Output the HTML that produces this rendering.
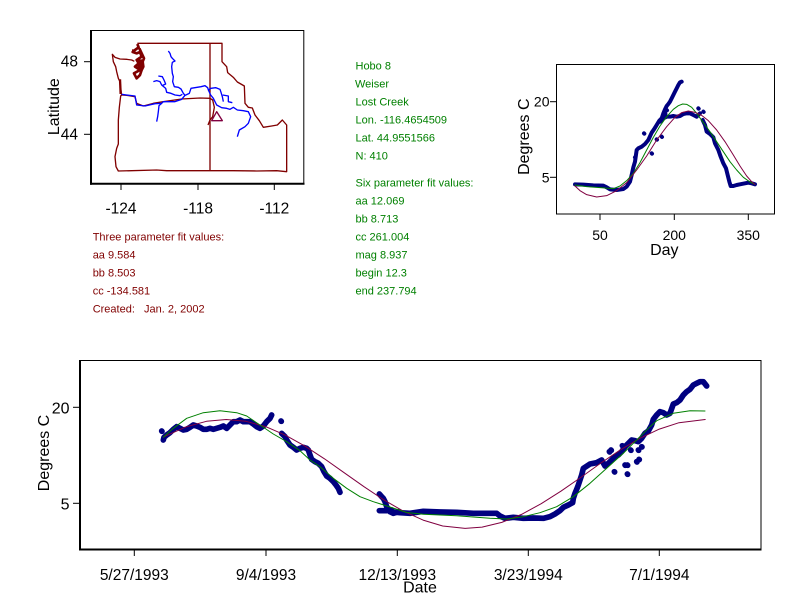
<!DOCTYPE html>
<html><head><meta charset="utf-8"><style>
html,body{margin:0;padding:0;background:#fff;}
svg{display:block;font-family:"Liberation Sans",Arial,sans-serif;}
</style></head><body>
<svg width="792" height="611" viewBox="0 0 792 611" xmlns="http://www.w3.org/2000/svg">
<rect width="792" height="611" fill="#fff"/>

<!-- ===== MAP ===== -->
<g fill="none" stroke="#000">
<line x1="90" y1="30.5" x2="304" y2="30.5" stroke-width="1"/>
<line x1="303.8" y1="30" x2="303.8" y2="184" stroke-width="1"/>
<line x1="91" y1="30" x2="91" y2="184.7" stroke-width="2"/>
<line x1="90" y1="183.7" x2="304.5" y2="183.7" stroke-width="2"/>
<line x1="84" y1="61.7" x2="90" y2="61.7"/>
<line x1="84" y1="134.3" x2="90" y2="134.3"/>
<line x1="121" y1="184" x2="121" y2="190"/>
<line x1="198" y1="184" x2="198" y2="190"/>
<line x1="274.3" y1="184" x2="274.3" y2="190"/>
</g>
<g font-size="15.5" fill="#000">
<text x="78" y="66.7" text-anchor="end">48</text>
<text x="78" y="139.5" text-anchor="end">44</text>
<text x="121" y="213.3" text-anchor="middle">-124</text>
<text x="198" y="213.3" text-anchor="middle">-118</text>
<text x="274.3" y="213.3" text-anchor="middle">-112</text>
<text transform="translate(59,106.7) rotate(-90)" text-anchor="middle" font-size="16">Latitude</text>
</g>
<g transform="translate(0,20) scale(0.333333)" fill="none" stroke-linejoin="round">
<g stroke="#800000" stroke-width="4">
<path d="M412,70 L666,70 L666,125 L680,140 L683,158 L700,172 L712,186 L733,198 L735,250 L745,262 L757,264 L765,285 L778,302 L790,322 L815,318 L832,315 L847,300 L860,315 L860,455 L830,452 L770,453 L700,452 L600,452 L500,452 L470,450 L355,453 L348,440 L345,410 L350,385 L355,372 L355,300 L358,262 L362,228 L365,225 L362,205 L360,185 L355,175 L350,155 L347,140 L340,125 L337,103 L345,112 L360,117 L380,118 L395,120 L403,124"/>
<path d="M630,70 L630,450"/>
<path d="M365,225 L380,226 L405,230 L410,250 L430,258 L460,250 L490,245 L545,237 L600,234 L630,235 L638,240 L643,262 L638,290 L630,300 L624,315"/>
<path d="M360,178 L362,222" stroke-width="7"/>
<path d="M412,72 L416,82 L405,90 L398,96 L410,100 L420,96 L425,110 L410,120 L416,130 L405,140 L420,150 L402,160 L410,175 L420,165 L425,150 L430,140 L428,125 L432,115 L425,100 L418,85" stroke-width="8"/>
<rect x="396" y="88" width="10" height="10" fill="#800000" stroke="none"/>
<rect x="412" y="118" width="14" height="30" fill="#800000" stroke="none"/>
</g>
<g stroke="#0000ff" stroke-width="4">
<path d="M365,223 L380,225 L405,228 L410,255 L435,258 L465,251 L485,250 L490,245 L525,245 L545,238 L555,226 L568,220 L573,205 L603,200 L615,197 L623,203 L625,210 L633,205 L647,203 L660,208 L663,217 L667,230 L670,245"/>
<path d="M505,93 L510,100 L513,110 L517,115 L525,123 L517,127 L515,140 L517,160 L520,170 L518,185 L523,200 L535,202 L543,207 L550,220 L555,226"/>
<path d="M460,185 L470,182 L480,185 L485,195 L497,205 L500,217 L513,220 L525,225 L540,227 L547,223"/>
<path d="M475,168 L487,170 L492,180 L497,192 L488,196"/>
<path d="M485,250 L477,257 L475,275 L473,290 L470,305"/>
<path d="M625,210 L632,225 L640,235 L645,245 L650,255 L665,263 L680,265 L690,268 L700,262 L712,270 L730,272 L745,275 L752,290 L745,310 L735,320 L718,330 L712,350"/>
<path d="M668,225 L685,228 L685,245 L697,248"/>
</g>
<path d="M650,275 L635,302 L667,302 Z" stroke="#800040" stroke-width="4"/>
</g>

<!-- ===== TEXT BLOCKS ===== -->
<g font-size="11" fill="#008000">
<text x="355.5" y="69.3">Hobo 8</text>
<text x="355" y="87.3">Weiser</text>
<text x="355.5" y="105.3">Lost Creek</text>
<text x="355.5" y="123.3">Lon. -116.4654509</text>
<text x="355.5" y="141.3">Lat. 44.9551566</text>
<text x="355.5" y="159.5">N: 410</text>
<text x="355.5" y="186.5">Six parameter fit values:</text>
<text x="355.5" y="204.5">aa 12.069</text>
<text x="355.5" y="222.5">bb 8.713</text>
<text x="355.5" y="240.5">cc 261.004</text>
<text x="355.5" y="258.5">mag 8.937</text>
<text x="355.5" y="276.5">begin 12.3</text>
<text x="355.5" y="294.5">end 237.794</text>
</g>
<g font-size="11" fill="#800000">
<text x="92.7" y="240.5">Three parameter fit values:</text>
<text x="92.7" y="258.5">aa 9.584</text>
<text x="92.7" y="276.5">bb 8.503</text>
<text x="92.7" y="294.5">cc -134.581</text>
<text x="92.7" y="312.5" xml:space="preserve">Created:   Jan. 2, 2002</text>
</g>

<!-- ===== RIGHT CHART ===== -->
<g fill="none" stroke="#000" stroke-width="1">
<rect x="556.5" y="64.5" width="218" height="149.5"/>
<line x1="550" y1="101.7" x2="556" y2="101.7"/>
<line x1="550" y1="177.3" x2="556" y2="177.3"/>
<line x1="600" y1="214" x2="600" y2="220"/>
<line x1="674.3" y1="214" x2="674.3" y2="220"/>
<line x1="748.3" y1="214" x2="748.3" y2="220"/>
</g>
<g fill="#000">
<text x="549.5" y="106.7" text-anchor="end" font-size="14">20</text>
<text x="549.5" y="182.7" text-anchor="end" font-size="14">5</text>
<text x="600" y="240" text-anchor="middle" font-size="14">50</text>
<text x="674.3" y="240" text-anchor="middle" font-size="14">200</text>
<text x="748.3" y="240" text-anchor="middle" font-size="14">350</text>
<text x="664.3" y="255" text-anchor="middle" font-size="16">Day</text>
<text transform="translate(529,136.7) rotate(-90)" text-anchor="middle" font-size="16">Degrees C</text>
</g>
<g transform="translate(500,50) scale(0.333333)" fill="none" stroke-linecap="round" stroke-linejoin="round">
<g stroke="#000080" stroke-width="12">
<path d="M225,403 L250,404 L280,406 L310,407 L320,412 L330,418 L350,420 L370,417 L380,410 L390,395 L395,375 L400,352 L405,335 L410,300 L415,295 L425,290 L435,282 L445,270 L455,248 L462,238 L470,225 L478,212 L485,205 L490,190 L495,178 L500,168 L505,162 L510,155 L515,145 L520,135 L525,125 L530,115 L535,105 L540,97 L545,95"/>
<path d="M480,215 L490,205 L500,200 L510,200 L520,198 L530,200 L540,198 L550,192 L560,190 L570,190 L580,195 L590,200 L600,190"/>
<path d="M608,210 L615,225 L620,245 L630,252 L640,262 L645,280 L655,300 L662,320 L670,340 L678,355 L683,375 L688,395 L692,408 L700,408 L710,405 L720,403 L735,400 L745,398 L755,400 L765,403"/>
<path d="M595,175 L596,176 M610,185 L611,186 M432,250 L433,251 M455,310 L456,311 M470,268 L471,269 M485,260 L486,261 M500,180 L501,181 M495,190 L496,191 M405,322 L406,323"/>
</g>
<path stroke="#008000" stroke-width="3" d="M225,405 L260,410 L300,413 L340,416 L360,408 L380,392 L400,370 L420,338 L440,300 L460,262 L480,228 L500,200 L520,178 L535,167 L548,162 L560,163 L575,172 L590,190 L610,218 L630,245 L650,275 L670,305 L690,335 L710,360 L730,382 L750,396 L765,403"/>
<path stroke="#800040" stroke-width="3" d="M225,408 L240,422 L260,434 L290,441 L320,437 L350,422 L380,398 L410,360 L440,318 L470,270 L500,230 L525,202 L545,188 L565,183 L585,187 L605,196 L625,212 L650,240 L675,275 L700,315 L720,348 L740,378 L755,395 L765,403"/>
</g>

<!-- ===== MAIN CHART ===== -->
<g fill="none" stroke="#000">
<line x1="79" y1="360.5" x2="761.5" y2="360.5" stroke-width="1"/>
<line x1="761" y1="360" x2="761" y2="550" stroke-width="1"/>
<line x1="80" y1="360" x2="80" y2="550.5" stroke-width="2"/>
<line x1="79" y1="549.5" x2="761.5" y2="549.5" stroke-width="2"/>
<line x1="73" y1="407.3" x2="79" y2="407.3"/>
<line x1="73" y1="503.3" x2="79" y2="503.3"/>
<line x1="134.3" y1="550" x2="134.3" y2="556"/>
<line x1="266" y1="550" x2="266" y2="556"/>
<line x1="397.3" y1="550" x2="397.3" y2="556"/>
<line x1="528.3" y1="550" x2="528.3" y2="556"/>
<line x1="659.3" y1="550" x2="659.3" y2="556"/>
</g>
<g fill="#000" font-size="15.5">
<text x="69.5" y="413.3" text-anchor="end" font-size="16">20</text>
<text x="69.5" y="509.3" text-anchor="end" font-size="16">5</text>
<text x="134.3" y="580" text-anchor="middle">5/27/1993</text>
<text x="266" y="580" text-anchor="middle">9/4/1993</text>
<text x="397.3" y="580" text-anchor="middle">12/13/1993</text>
<text x="528.3" y="580" text-anchor="middle">3/23/1994</text>
<text x="659.3" y="580" text-anchor="middle">7/1/1994</text>
<text x="420" y="592.5" text-anchor="middle" font-size="16">Date</text>
<text transform="translate(49,453) rotate(-90)" text-anchor="middle" font-size="16">Degrees C</text>
</g>
<g fill="none" stroke-linecap="round" stroke-linejoin="round">
<g transform="translate(20,350) scale(0.333333)" stroke="#000080" stroke-width="17">
<path d="M425,243 L426,244"/>
<path d="M430,270 L432,262 L440,255 L450,248 L460,238 L470,230 L480,235 L490,240 L500,238 L510,232 L520,225 L530,228 L540,232 L550,238 L560,238 L570,235 L580,238 L590,235 L600,232 L610,228 L620,235 L630,225 L640,215 L650,215 L660,210 L670,215 L680,215 L690,215 L700,222 L710,230 L720,235 L730,228 L740,215 L750,205 L755,195"/>
<path d="M783,213 L784,214"/>
<path d="M785,250 L795,260 L800,270 L810,285 L820,292 L830,300 L840,295 L850,292 L860,295 L865,300 L870,315 L875,328 L885,335 L895,340 L905,350 L912,365 L920,378 L930,385 L940,395 L948,405 L955,415 L960,427"/>
<path d="M1078,432 L1085,440 L1090,445 L1095,455 L1100,470 L1110,485 L1120,490 L1135,485"/>
<path d="M1078,482 L1100,482 L1115,480"/>
</g>
<g transform="translate(390,350) scale(0.333333)" stroke="#000080" stroke-width="17">
<path d="M0,485 L30,488 L60,490 L100,484 L150,486 L200,487 L250,490 L320,490 L330,498 L345,505 L370,502 L400,505 L430,504 L460,505 L480,500 L495,492 L510,482 L520,472 L535,465 L548,458 L550,445 L555,430 L560,418 L565,405 L570,390 L575,375 L580,355 L600,342 L620,338 L635,330 L645,348 L655,340 L665,330 L675,320 L685,315 L695,305 L705,290 L715,280 L725,270 L735,272 L745,275 L755,265 L765,250 L775,243 L785,225 L790,208 L800,195 L810,185 L820,188 L830,195 L840,190 L850,162 L860,158 L870,150 L880,135 L890,125 L900,118 L910,105 L920,100 L930,95 L940,95 L950,108"/>
<path d="M663,300 L664,301 M658,305 L659,306 M673,365 L674,366 M697,287 L698,288 M712,345 L713,346 M712,372 L713,373 M740,335 L741,336 M747,328 L748,329 M755,290 L756,291 M745,300 L746,301 M722,300 L723,301 M705,345 L706,346"/>
</g>
<polyline stroke="#800040" stroke-width="1" points="163.2,437.1 186.8,426.6 206.5,421.3 226.2,419.5 245.9,421.3 265.6,426.6 285.2,435.1 304.9,446.1 324.6,458.9 344.3,472.8 364,486.7 383.7,499.8 403.4,511.2 423.1,520.1 442.7,526 465.1,528.4 482.1,527.1 501.8,522.4 521.5,514.4 541.2,503.7 560.9,491.2 580.7,477.5 600.2,463.5 619.9,450.2 639.6,438.4 659.3,429.1 679,422.7 705.2,419.5"/>
<polyline stroke="#008000" stroke-width="1" points="163.3,437.3 173.3,428.3 186.7,418.3 203.3,412.7 220,410.7 236.7,412.7 246.7,416 260,425 273.3,434 286.7,441.7 300,450.7 310,460 320,466.7 333.3,478.3 346.7,488.3 360,496.7 373.3,501.7 390,507 406.7,512.5 423.3,514.3 456.7,515.7 490,518.3 506.7,519 523.3,516.7 540,512.7 556.7,506.7 573.3,496.7 590,483.3 606.7,468.3 623.3,453.3 640,436.7 650,426.7 656.7,420.7 673.3,413.3 690,410.7 705,411"/>
</g>
</svg>
</body></html>
